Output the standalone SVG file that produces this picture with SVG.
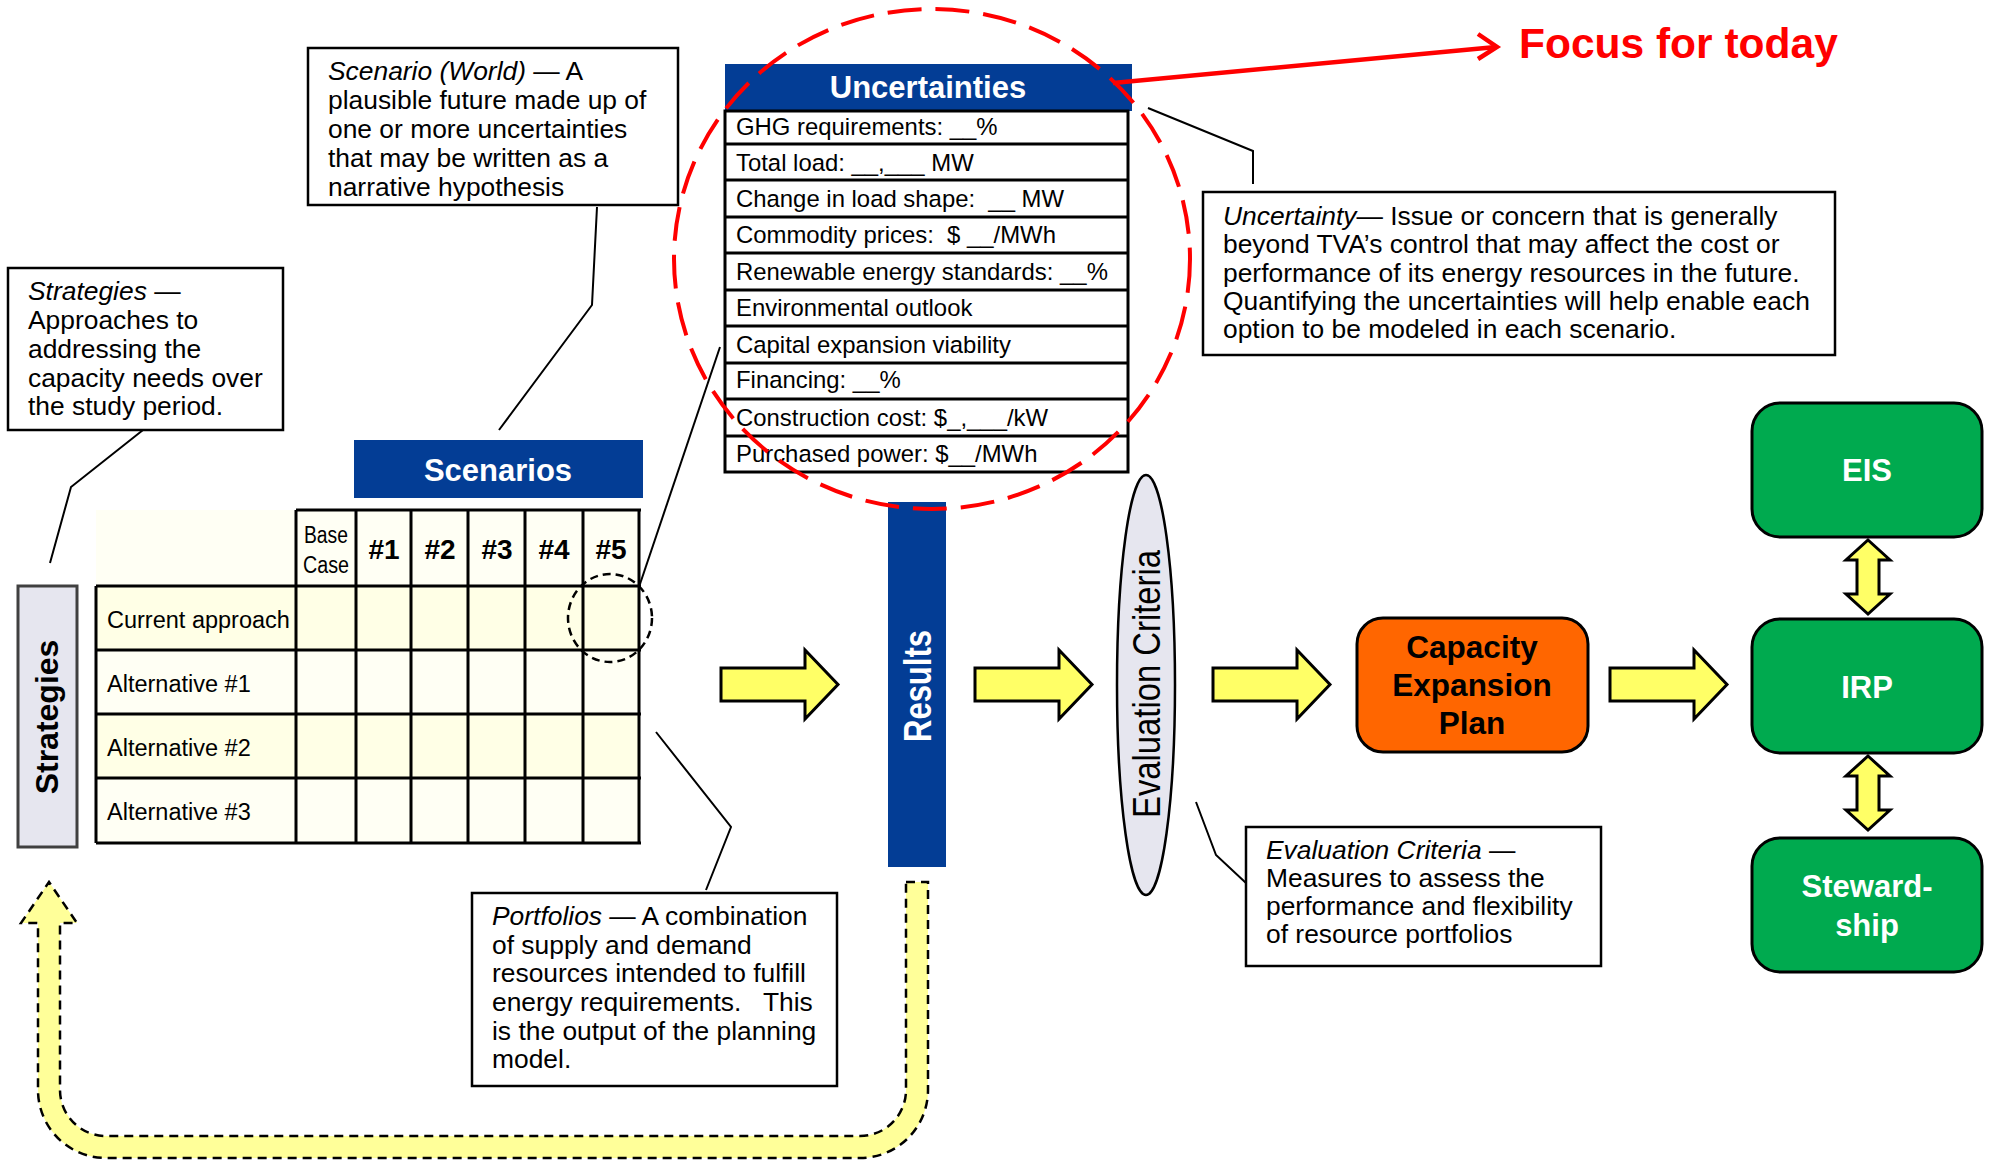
<svg xmlns="http://www.w3.org/2000/svg" xmlns:xlink="http://www.w3.org/1999/xlink" width="1994" height="1160" viewBox="0 0 1994 1160">
<style>
  text { font-family: "Liberation Sans", Arial, sans-serif; fill: #000; }
  .t24 { font-size: 26.4px; }
  .t23 { font-size: 23.9px; }
  .it { font-style: italic; }
  .pre { white-space: pre; }
  .b31w { font-size: 31px; font-weight: bold; fill: #fff; }
  .b31k { font-size: 31.5px; font-weight: bold; fill: #000; }
  .hdr { font-size: 28px; font-weight: bold; text-anchor: middle; }
  .note { fill: #fff; stroke: #000; stroke-width: 2.5; }
  .leader { fill: none; stroke: #000; stroke-width: 2; }
  .grid { stroke: #000; stroke-width: 3; fill: none; }
  .blue { fill: #033D95; }
  .green { fill: #00AA4F; stroke: #000; stroke-width: 3; }
  .yarrow { fill: #FFFF66; stroke: #000; stroke-width: 3; stroke-linejoin: miter; }
  .mid { text-anchor: middle; }
</style>
<defs>
  <path id="blockArrow" d="M0,18 H84 V0 L117,34.5 L84,69 V51 H0 Z"/>
  <path id="dblArrow" d="M0,0 L22,20 H11 V54 H22 L0,74 L-22,54 H-11 V20 H-22 Z"/>
</defs>
<rect width="1994" height="1160" fill="#fff"/>

<!-- Connectors -->
<g id="connectors">
  <polyline class="leader" points="597,207 592,305 499,430"/>
  <polyline class="leader" points="143,430 71,487 50,563"/>
  <polyline class="leader" points="639,587 720,347"/>
  <polyline class="leader" points="1148,108 1253,151 1253,184"/>
  <polyline class="leader" points="656,732 731,827 706,890"/>
  <polyline class="leader" points="1196,802 1216,855 1246,883"/>
  <!-- feedback arrow -->
  <path d="M906,882 L928,882 L928,1090 A68,68 0 0 1 860,1158 L106,1158 A68,68 0 0 1 38,1090 L38,923 L21,923 L49,882 L77,923 L60,923 L60,1090 A46,46 0 0 0 106,1136 L860,1136 A46,46 0 0 0 906,1090 Z" fill="#FFFF99" stroke="#000" stroke-width="2.5" stroke-dasharray="9,6"/>
  <!-- block arrows -->
  <use xlink:href="#blockArrow" href="#blockArrow" class="yarrow" transform="translate(721,650)"/>
  <use xlink:href="#blockArrow" href="#blockArrow" class="yarrow" transform="translate(975,650)"/>
  <use xlink:href="#blockArrow" href="#blockArrow" class="yarrow" transform="translate(1213,650)"/>
  <use xlink:href="#blockArrow" href="#blockArrow" class="yarrow" transform="translate(1610,650)"/>
  <use xlink:href="#dblArrow" href="#dblArrow" class="yarrow" transform="translate(1868,540)"/>
  <use xlink:href="#dblArrow" href="#dblArrow" class="yarrow" transform="translate(1868,756)"/>
</g>

<!-- Scenario note -->
<g id="note-scenario">
  <rect class="note" x="308" y="48" width="370" height="157"/>
  <text class="t24" x="328" y="80"><tspan class="it">Scenario (World)</tspan> — A</text>
  <text class="t24" x="328" y="109">plausible future made up of</text>
  <text class="t24" x="328" y="138">one or more uncertainties</text>
  <text class="t24" x="328" y="167">that may be written as a</text>
  <text class="t24" x="328" y="196">narrative hypothesis</text>
</g>

<!-- Strategies note -->
<g id="note-strategies">
  <rect class="note" x="8" y="268" width="275" height="162"/>
  <text class="t24" x="28" y="300"><tspan class="it">Strategies</tspan> —</text>
  <text class="t24" x="28" y="329">Approaches to</text>
  <text class="t24" x="28" y="358">addressing the</text>
  <text class="t24" x="28" y="387">capacity needs over</text>
  <text class="t24" x="28" y="415">the study period.</text>
</g>

<!-- Uncertainty note -->
<g id="note-uncertainty">
  <rect class="note" x="1203" y="192" width="632" height="163"/>
  <text class="t24" x="1223" y="225"><tspan class="it">Uncertainty</tspan>— Issue or concern that is generally</text>
  <text class="t24" x="1223" y="253">beyond TVA’s control that may affect the cost or</text>
  <text class="t24" x="1223" y="282">performance of its energy resources in the future.</text>
  <text class="t24" x="1223" y="310">Quantifying the uncertainties will help enable each</text>
  <text class="t24" x="1223" y="338">option to be modeled in each scenario.</text>
</g>

<!-- Portfolios note -->
<g id="note-portfolios">
  <rect class="note" x="472" y="893" width="365" height="193"/>
  <text class="t24" x="492" y="925"><tspan class="it">Portfolios</tspan> — A combination</text>
  <text class="t24" x="492" y="954">of supply and demand</text>
  <text class="t24" x="492" y="982">resources intended to fulfill</text>
  <text class="t24 pre" x="492" y="1011" xml:space="preserve">energy requirements.   This</text>
  <text class="t24" x="492" y="1040">is the output of the planning</text>
  <text class="t24" x="492" y="1068">model.</text>
</g>

<!-- Evaluation criteria note -->
<g id="note-evaluation">
  <rect class="note" x="1246" y="827" width="355" height="139"/>
  <text class="t24" x="1266" y="859"><tspan class="it">Evaluation Criteria</tspan> —</text>
  <text class="t24" x="1266" y="887">Measures to assess the</text>
  <text class="t24" x="1266" y="915">performance and flexibility</text>
  <text class="t24" x="1266" y="943">of resource portfolios</text>
</g>

<!-- Strategies vertical label -->
<g id="strategies">
  <rect x="18" y="586" width="59" height="261" fill="#E6E6EF" stroke="#404040" stroke-width="3"/>
  <text class="b31k mid" style="font-size:32px" transform="translate(58,717) rotate(-90)">Strategies</text>
</g>

<!-- Scenarios table -->
<g id="scenarios-table">
  <rect class="blue" x="354" y="440" width="289" height="58"/>
  <text class="b31w mid" x="498" y="481">Scenarios</text>
  <rect x="96" y="510" width="543" height="76" fill="#FFFFF4"/>
  <rect x="96" y="586" width="543" height="64" fill="#FFFFE6"/>
  <rect x="96" y="650" width="543" height="64" fill="#FFFFF4"/>
  <rect x="96" y="714" width="543" height="64" fill="#FFFFE6"/>
  <rect x="96" y="778" width="543" height="65" fill="#FFFFF4"/>
  <g class="grid">
    <line x1="296" y1="510" x2="641" y2="510"/>
    <line x1="96" y1="586" x2="641" y2="586"/>
    <line x1="96" y1="650" x2="641" y2="650"/>
    <line x1="96" y1="714" x2="641" y2="714"/>
    <line x1="96" y1="778" x2="641" y2="778"/>
    <line x1="96" y1="843" x2="641" y2="843"/>
    <line x1="96" y1="586" x2="96" y2="843"/>
    <line x1="296" y1="510" x2="296" y2="843"/>
    <line x1="356" y1="510" x2="356" y2="843"/>
    <line x1="411" y1="510" x2="411" y2="843"/>
    <line x1="468" y1="510" x2="468" y2="843"/>
    <line x1="525" y1="510" x2="525" y2="843"/>
    <line x1="583" y1="510" x2="583" y2="843"/>
    <line x1="639" y1="510" x2="639" y2="843"/>
  </g>
  <text class="mid" style="font-size:23px" x="326" y="543" textLength="44" lengthAdjust="spacingAndGlyphs">Base</text>
  <text class="mid" style="font-size:23px" x="326" y="573" textLength="46" lengthAdjust="spacingAndGlyphs">Case</text>
  <text class="hdr" x="384" y="559">#1</text>
  <text class="hdr" x="440" y="559">#2</text>
  <text class="hdr" x="497" y="559">#3</text>
  <text class="hdr" x="554" y="559">#4</text>
  <text class="hdr" x="611" y="559">#5</text>
  <text style="font-size:23.5px" x="107" y="628">Current approach</text>
  <text style="font-size:23.5px" x="107" y="692">Alternative #1</text>
  <text style="font-size:23.5px" x="107" y="756">Alternative #2</text>
  <text style="font-size:23.5px" x="107" y="820">Alternative #3</text>
  <ellipse cx="610" cy="618" rx="42" ry="44" fill="none" stroke="#000" stroke-width="2.5" stroke-dasharray="8,5"/>
</g>

<!-- Uncertainties table -->
<g id="uncertainties">
  <rect class="blue" x="725" y="64" width="407" height="47"/>
  <text class="b31w mid" x="928" y="98">Uncertainties</text>
  <rect x="725" y="111" width="403" height="361" fill="#fff"/>
  <g class="grid">
    <rect x="725" y="111" width="403" height="361"/>
    <line x1="725" y1="144" x2="1128" y2="144"/>
    <line x1="725" y1="180" x2="1128" y2="180"/>
    <line x1="725" y1="217" x2="1128" y2="217"/>
    <line x1="725" y1="253" x2="1128" y2="253"/>
    <line x1="725" y1="290" x2="1128" y2="290"/>
    <line x1="725" y1="326" x2="1128" y2="326"/>
    <line x1="725" y1="363" x2="1128" y2="363"/>
    <line x1="725" y1="399" x2="1128" y2="399"/>
    <line x1="725" y1="436" x2="1128" y2="436"/>
  </g>
  <text class="t23" x="736" y="135">GHG requirements: __%</text>
  <text class="t23" x="736" y="171">Total load: __,___ MW</text>
  <text class="t23 pre" x="736" y="207" xml:space="preserve">Change in load shape:  __ MW</text>
  <text class="t23 pre" x="736" y="243" xml:space="preserve">Commodity prices:  $ __/MWh</text>
  <text class="t23" x="736" y="280">Renewable energy standards: __%</text>
  <text class="t23" x="736" y="316">Environmental outlook</text>
  <text class="t23" x="736" y="353">Capital expansion viability</text>
  <text class="t23" x="736" y="388">Financing: __%</text>
  <text class="t23" x="736" y="426">Construction cost: $_,___/kW</text>
  <text class="t23" x="736" y="462">Purchased power: $__/MWh</text>
</g>

<!-- Results bar -->
<g id="results">
  <rect class="blue" x="888" y="502" width="58" height="365"/>
  <text class="b31w mid" style="font-size:38px" transform="translate(931,686) rotate(-90)" textLength="112" lengthAdjust="spacingAndGlyphs">Results</text>
</g>

<!-- Focus highlight -->
<g id="focus">
  <ellipse cx="932" cy="259" rx="258" ry="250" fill="none" stroke="#FF0000" stroke-width="4" stroke-dasharray="34,14"/>
  <line x1="1113" y1="83" x2="1496" y2="47" stroke="#FF0000" stroke-width="4.5"/>
  <polyline points="1478,34 1497,47 1478,59" fill="none" stroke="#FF0000" stroke-width="4.5"/>
  <text x="1519" y="58" style="font-size:42.5px;font-weight:bold;fill:#FF0000">Focus for today</text>
</g>

<!-- Evaluation Criteria ellipse -->
<g id="evaluation">
  <ellipse cx="1146" cy="685" rx="29" ry="210" fill="#E6E6EF" stroke="#000" stroke-width="2.5"/>
  <text class="mid" style="font-size:38px" transform="translate(1160,684) rotate(-90)" textLength="268" lengthAdjust="spacingAndGlyphs">Evaluation Criteria</text>
</g>

<!-- Capacity Expansion Plan -->
<g id="capacity-plan">
  <rect x="1357" y="618" width="231" height="134" rx="26" fill="#FF6600" stroke="#000" stroke-width="3"/>
  <text class="b31k mid" x="1472" y="658">Capacity</text>
  <text class="b31k mid" x="1472" y="696">Expansion</text>
  <text class="b31k mid" x="1472" y="734">Plan</text>
</g>

<g id="eis">
  <rect class="green" x="1752" y="403" width="230" height="134" rx="28"/>
  <text class="b31w mid" x="1867" y="481">EIS</text>
</g>
<g id="irp">
  <rect class="green" x="1752" y="619" width="230" height="134" rx="28"/>
  <text class="b31w mid" x="1867" y="698">IRP</text>
</g>
<g id="stewardship">
  <rect class="green" x="1752" y="838" width="230" height="134" rx="28"/>
  <text class="b31w mid" x="1867" y="897">Steward-</text>
  <text class="b31w mid" x="1867" y="936">ship</text>
</g>
</svg>
